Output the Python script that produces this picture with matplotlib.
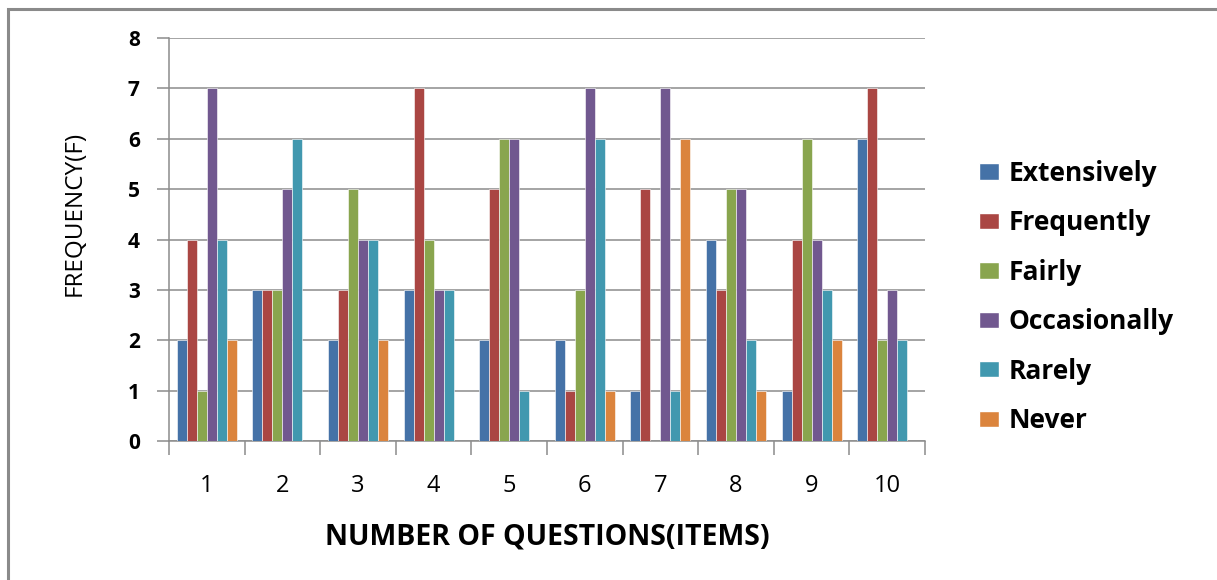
import numpy as np
import matplotlib
matplotlib.use("Agg")
import matplotlib.pyplot as plt
from matplotlib.patches import Rectangle, Patch

questions = ["1", "2", "3", "4", "5", "6", "7", "8", "9", "10"]
series_names = ["Extensively", "Frequently", "Fairly", "Occasionally", "Rarely", "Never"]
extensively = [2, 3, 2, 3, 2, 2, 1, 4, 1, 6]
frequently = [4, 3, 3, 7, 5, 1, 5, 3, 4, 7]
fairly = [1, 3, 5, 4, 6, 3, 0, 5, 6, 2]
occasionally = [7, 5, 4, 3, 6, 7, 7, 5, 4, 3]
rarely = [4, 6, 4, 3, 1, 6, 1, 2, 3, 2]
never = [2, 0, 2, 0, 0, 1, 6, 1, 2, 0]
y_ticks = [0, 1, 2, 3, 4, 5, 6, 7, 8]

series = [extensively, frequently, fairly, occasionally, rarely, never]
colors = ["#4572A7", "#AA4643", "#89A54E", "#71588F", "#4198AF", "#DB843D"]

plt.rcParams["font.family"] = ["Open Sans", "DejaVu Sans"]

W, H = 1217, 580
fig = plt.figure(figsize=(W / 100, H / 100), dpi=100)
fig.patch.set_facecolor("white")

# outer chart frame (left and top edges visible)
fig.patches.append(Rectangle((8 / W, -0.1), 1.2, (H - 9) / H + 0.1,
                             transform=fig.transFigure, fill=False,
                             edgecolor="#8a8a8a", linewidth=2.2, zorder=0))

ax = fig.add_axes([169 / W, 1 - 441 / H, (925 - 169) / W, (441 - 38) / H])

n = len(series)
x = np.arange(len(questions))
bar_w = 0.132
for i, (vals, col, name) in enumerate(zip(series, colors, series_names)):
    offs = (i - (n - 1) / 2) * bar_w
    ax.bar(x + offs, vals, width=bar_w, color=col, edgecolor="white",
           linewidth=0.4, label=name, zorder=3)

ax.set_xlim(-0.5, len(questions) - 0.5)
ax.set_ylim(0, 8)
ax.set_yticks(y_ticks)
ax.set_yticklabels([str(v) for v in y_ticks], fontsize=15, fontweight="bold")
ax.yaxis.grid(True, color="#8c8c8c", linewidth=1.1, zorder=0)
ax.set_axisbelow(True)

# category boundary ticks on the x axis, labels centred in each slot
ax.set_xticks(np.arange(len(questions) + 1) - 0.5)
ax.set_xticklabels([])
ax.set_xticks(x, minor=True)
ax.set_xticklabels(questions, minor=True, fontsize=17)
ax.tick_params(axis="x", which="major", length=10, width=1.1, color="#8c8c8c")
ax.tick_params(axis="x", which="minor", length=0, pad=24)
ax.tick_params(axis="y", length=9, width=1.1, color="#8c8c8c", pad=12)

for side in ["top", "right"]:
    ax.spines[side].set_visible(False)
for side in ["left", "bottom"]:
    ax.spines[side].set_color("#8c8c8c")
    ax.spines[side].set_linewidth(1.1)

fig.text(547 / W, 1 - 537 / H, "NUMBER OF QUESTIONS(ITEMS)", ha="center",
         va="center", fontsize=20.5, fontweight="bold")
fig.text(75 / W, 1 - 213 / H, "FREQUENCY(F)", ha="center", va="center",
         rotation=90, fontsize=17.5)

handles = [Patch(facecolor=c, edgecolor="white", label=nm)
           for c, nm in zip(colors, series_names)]
fig.legend(handles=handles, loc="center left",
           bbox_to_anchor=(955 / W, 1 - 297 / H), frameon=False,
           prop={"size": 19, "weight": "bold"}, handlelength=0.76,
           handleheight=0.57, handletextpad=0.38, labelspacing=0.85)

fig.savefig("out.png", dpi=100, facecolor="white")
